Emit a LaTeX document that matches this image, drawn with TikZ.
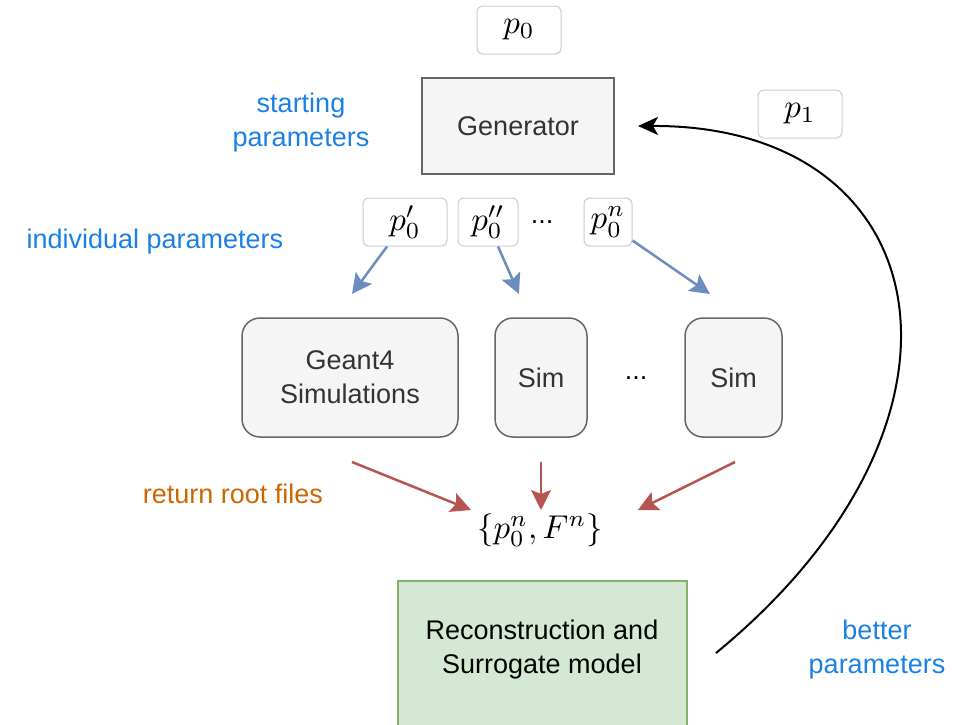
\documentclass[tikz,border=0pt]{standalone}
\usepackage{graphicx}
\usepackage[no-math]{fontspec}
\setmainfont{Liberation Sans}
\usetikzlibrary{arrows.meta,calc}

\definecolor{labelblue}{RGB}{26,128,230}
\definecolor{labelorange}{RGB}{204,102,0}
\definecolor{edgeblue}{RGB}{108,142,191}
\definecolor{edgered}{RGB}{184,84,80}
\definecolor{boxline}{RGB}{102,102,102}
\definecolor{boxfill}{RGB}{245,245,245}
\definecolor{parline}{RGB}{204,204,204}
\definecolor{recfill}{RGB}{213,232,212}
\definecolor{recline}{RGB}{130,179,102}
\definecolor{inktext}{RGB}{51,51,51}

\newcommand\labelsize{\fontsize{27}{34}\selectfont}
\newcommand\bigmath[1]{\scalebox{3.3}{$#1$}}

\tikzset{
  parbox/.style={draw=parline, line width=1pt, rounded corners=6pt, fill=white,
    minimum width=84pt, minimum height=48pt, inner sep=0pt},
  genbox/.style={draw=boxline, fill=boxfill, line width=2pt,
    minimum width=192pt, minimum height=96pt, inner sep=0pt,
    font=\labelsize, text=inktext},
  simbox/.style={draw=boxline, fill=boxfill, line width=1.5pt, rounded corners=18pt,
    minimum height=119pt, inner sep=0pt, align=center,
    font=\labelsize, text=inktext},
  recbox/.style={draw=recline, fill=recfill, line width=2pt, inner sep=0pt},
  bluelabel/.style={text=labelblue, font=\labelsize, align=center, inner sep=0pt},
  orangelabel/.style={text=labelorange, font=\labelsize, align=center, inner sep=0pt},
  plaintext/.style={font=\labelsize, align=center, inner sep=0pt},
  bluearrow/.style={draw=edgeblue, line width=2.5pt,
    -{Stealth[length=20pt, width=20pt, inset=4pt]}},
  redarrow/.style={draw=edgered, line width=2.5pt,
    -{Stealth[length=20pt, width=20pt, inset=4pt]}},
  feedback/.style={draw=black, line width=2pt,
    -{Stealth[length=20pt, width=18pt, inset=5pt]}}
}

\begin{document}
\begin{tikzpicture}[x=1pt, y=-1pt]
\useasboundingbox (0,0) rectangle (959,724);
\clip (0,0) rectangle (959,724);

% parameter boxes and generator
\node[parbox] (p0) at (519,30) {\bigmath{p_0}};
\node[genbox] (gen) at (518,126) {Generator};
\node[parbox] (p1) at (800,114) {\bigmath{p_1}};

\node[parbox] (pa) at (405,222) {\bigmath{p_0'}};
\node[parbox, minimum width=60pt] (pb) at (488,222) {\bigmath{p_0''}};
\node[plaintext] (dotsA) at (542,222) {...};
\node[parbox, minimum width=48pt] (pn) at (608,222) {\bigmath{p_0^n}};

% simulation boxes
\node[simbox, minimum width=216pt] (g4) at (350,377.5) {Geant4\\Simulations};
\node[simbox, minimum width=92pt] (sim1) at (541,377.5) {Sim};
\node[plaintext] (dotsB) at (636,378) {...};
\node[simbox, minimum width=97pt] (sim2) at (733.5,377.5) {Sim};

% collected results
\node[inner sep=0pt] (res) at (540,530) {\bigmath{\{p_0^n, F^n\}}};

% reconstruction box (runs past the lower edge)
\node[recbox, minimum width=289pt, minimum height=170pt] (rec) at (542,666) {};
\node[plaintext] (rectext) at (542,650) {Reconstruction and\\Surrogate model};

% labels
\node[bluelabel] (startlbl) at (301,123) {starting\\parameters};
\node[bluelabel] (indlbl) at (155,242) {individual parameters};
\node[orangelabel] (retlbl) at (233,494) {return root files};
\node[bluelabel] (betterlbl) at (877,650) {better\\parameters};

% arrow end points
\coordinate (ba1) at (352,294);
\coordinate (ba2) at (519,294);
\coordinate (ba3) at (710,294);
\coordinate (ra1s) at (352,462);
\coordinate (ra2s) at (541,462);
\coordinate (ra3s) at (735,462);
\coordinate (ra1) at (471,510);
\coordinate (ra2) at (541,510);
\coordinate (ra3) at (638,510);
\coordinate (fbstart) at (716,653);
\coordinate (fbend) at (638,126);

% distribution of individual parameters
\draw[bluearrow] ($(pa.south)+(-18,0)$) -- (ba1);
\draw[bluearrow] ($(pb.south)+(10,0)$) -- (ba2);
\draw[bluearrow] ($(pn.south east)+(0,-6)$) -- (ba3);

% returned files
\draw[redarrow] (ra1s) -- (ra1);
\draw[redarrow] (ra2s) -- (ra2);
\draw[redarrow] (ra3s) -- (ra3);

% feedback loop
\draw[feedback] (fbstart) .. controls (1000,420) and (940,125) .. (fbend);
\end{tikzpicture}
\end{document}
